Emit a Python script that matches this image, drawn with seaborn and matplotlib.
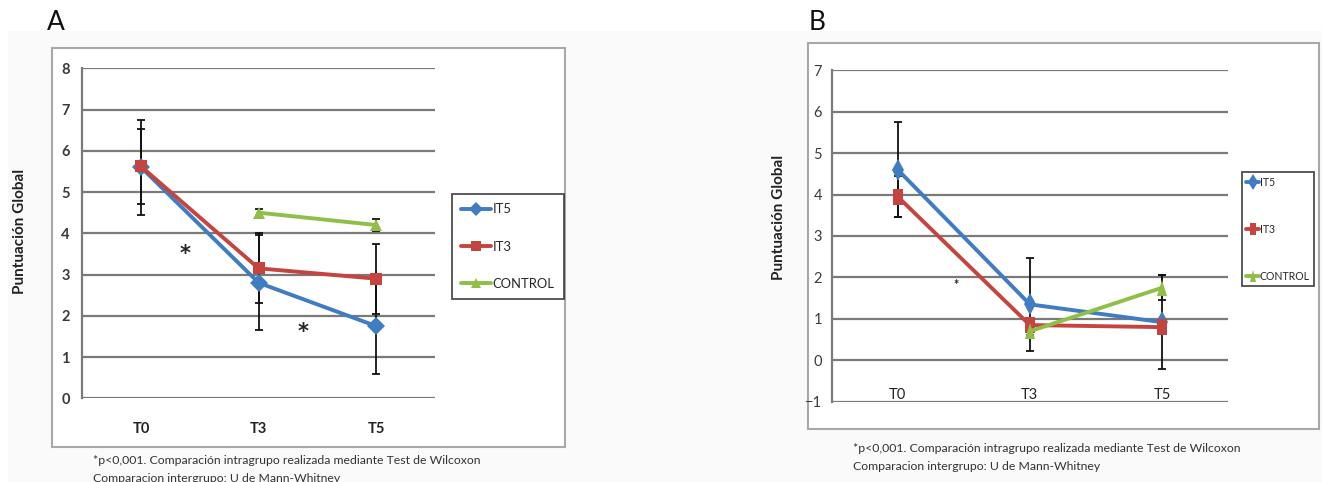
import numpy as np
import pandas as pd
import seaborn as sns
import matplotlib.pyplot as plt
from matplotlib.markers import MarkerStyle
from matplotlib.patches import Rectangle
from matplotlib.transforms import Affine2D

# %% data
tiempos = ['T0', 'T3', 'T5']
grupos = ['IT5', 'IT3', 'CONTROL']

# panel A
a_it5 = [5.60, 2.80, 1.75]
a_it3 = [5.62, 3.15, 2.90]
a_control = [4.50, 4.20]          # only T3, T5
a_it5_sd = [1.15, 1.15, 1.17]
a_it3_sd = [0.90, 0.85, 0.85]
a_control_sd = [0.10, 0.15]

# panel B
b_it5 = [4.60, 1.35, 0.92]
b_it3 = [3.95, 0.85, 0.80]
b_control = [0.70, 1.75]
b_it5_sd = [1.15, 1.12, 1.13]
b_it3_sd = [0.50, 0.10, 0.10]
b_control_sd = [0.10, 0.30]

caption1 = '*p<0,001. Comparación intragrupo realizada mediante Test de Wilcoxon'
caption2 = 'Comparacion intergrupo: U de Mann-Whitney'

colores = {'IT5': '#3f7cc2', 'IT3': '#c44440', 'CONTROL': '#8fbf46'}


def to_long(it5, it3, control, sd5, sd3, sdc):
    rows = []
    for t, v, s in zip(tiempos, it5, sd5):
        rows.append(('IT5', t, v, s))
    for t, v, s in zip(tiempos, it3, sd3):
        rows.append(('IT3', t, v, s))
    for t, v, s in zip(tiempos[1:], control, sdc):
        rows.append(('CONTROL', t, v, s))
    return pd.DataFrame(rows, columns=['grupo', 'tiempo', 'valor', 'sd'])


dfA = to_long(a_it5, a_it3, a_control, a_it5_sd, a_it3_sd, a_control_sd)
dfB = to_long(b_it5, b_it3, b_control, b_it5_sd, b_it3_sd, b_control_sd)

# %% figure
sns.set_style('white')
plt.rcParams['font.family'] = ['Lato', 'DejaVu Sans']
W, H = 1322, 482
fig = plt.figure(figsize=(W / 100, H / 100), dpi=100)
fig.patch.set_facecolor('white')
fig.patches.append(Rectangle((8 / W, 0), 1, 1 - 31 / H, transform=fig.transFigure,
                             facecolor='#fafafa', edgecolor='none', zorder=-10))


def px_axes(l, r, t, b):
    return fig.add_axes([l / W, 1 - b / H, (r - l) / W, (b - t) / H])


def chart_box(l, r, t, b):
    fig.patches.append(Rectangle((l / W, 1 - b / H), (r - l) / W, (b - t) / H,
                                 transform=fig.transFigure, facecolor='white',
                                 edgecolor='#a8a8a8', lw=1.5, zorder=-5))


def draw_panel(ax, df, markers, ms):
    pos = {t: i for i, t in enumerate(tiempos)}
    for g in grupos:
        d = df[df.grupo == g]
        ax.errorbar([pos[t] for t in d.tiempo], d.valor, yerr=d.sd, fmt='none',
                    ecolor='#111111', elinewidth=1.3, capsize=3, capthick=1.3, zorder=2)
    sns.lineplot(data=df, x='tiempo', y='valor', hue='grupo', style='grupo',
                 hue_order=grupos, style_order=grupos, palette=colores,
                 markers=markers, dashes=False, markersize=ms, lw=2.8,
                 markeredgewidth=0, sort=False, ax=ax, zorder=3)
    ax.set_xlim(-0.5, 2.5)
    ax.grid(axis='y', color='#7a7a7a', lw=1.6)
    ax.set_axisbelow(True)
    for s in ['top', 'right', 'bottom']:
        ax.spines[s].set_visible(False)
    ax.spines['left'].set_color('#7a7a7a')
    ax.spines['left'].set_linewidth(1.6)
    ax.tick_params(axis='both', length=0)
    ax.set_xlabel('')
    ax.set_facecolor('none')


# %% panel A
chart_box(51.7, 565, 48.3, 446.7)
axA = px_axes(82.3, 435, 68.3, 398.3)
draw_panel(axA, dfA, {'IT5': 'D', 'IT3': 's', 'CONTROL': '^'}, 9)
axA.set_ylim(0, 8)
axA.set_yticks(range(0, 9))
axA.tick_params(axis='y', pad=9, labelsize=10.5, labelcolor='#3a3a3a')
axA.tick_params(axis='x', pad=17, labelsize=10.5, labelcolor='#222222')
for lab in axA.get_xticklabels() + axA.get_yticklabels():
    lab.set_fontweight('bold')
axA.set_ylabel('Puntuación Global', fontsize=11, fontweight='bold', color='#222222')
axA.yaxis.set_label_coords(-0.157, 0.507)
axA.text(0.37, 3.5, '*', fontsize=15, fontweight='bold', family='DejaVu Sans',
         ha='center', va='center')
axA.text(1.375, 1.6, '*', fontsize=15, fontweight='bold', family='DejaVu Sans',
         ha='center', va='center')
legA = axA.legend(loc='upper left', bbox_to_anchor=(451.7 / W, 1 - 194 / H),
                  bbox_transform=fig.transFigure, frameon=True, fancybox=False,
                  edgecolor='#222222', fontsize=9.4, labelspacing=1.95,
                  handlelength=2.3, handletextpad=0.15, borderpad=0.7,
                  borderaxespad=0, markerscale=0.8)
legA.get_frame().set_linewidth(1.3)

fig.text(93 / W, 1 - 460 / H, caption1, fontsize=8.8, color='#333333', va='center')
fig.text(93 / W, 1 - 478 / H, caption2, fontsize=8.8, color='#333333', va='center')
fig.text(47 / W, 1 - 22 / H, 'A', fontsize=19, color='#111111', va='center')

# %% panel B  (picture is squeezed horizontally, so narrow markers)
squash = Affine2D().scale(0.6, 1.0)
mB = {'IT5': MarkerStyle('D', transform=squash),
      'IT3': MarkerStyle('s', transform=squash),
      'CONTROL': MarkerStyle('^', transform=squash)}
chart_box(808, 1319, 43.3, 429.3)
axB = px_axes(831.7, 1228, 70.3, 401.7)
draw_panel(axB, dfB, mB, 11)
axB.set_ylim(-1, 7)
axB.set_yticks(range(-1, 8))
axB.tick_params(axis='y', pad=7, labelsize=10.5, labelcolor='#3a3a3a')
axB.tick_params(axis='x', pad=-10, labelsize=10.5, labelcolor='#222222')
axB.set_ylabel('Puntuación Global', fontsize=11, fontweight='bold', color='#222222')
axB.yaxis.set_label_coords(-0.115, 0.556)
axB.text(0.44, 1.82, '*', fontsize=9, fontweight='bold', ha='center', va='center')
legB = axB.legend(loc='upper left', bbox_to_anchor=(1241.7 / W, 1 - 172 / H),
                  bbox_transform=fig.transFigure, frameon=True, fancybox=False,
                  edgecolor='#222222', fontsize=7.6, labelspacing=3.4,
                  handlelength=1.2, handletextpad=0.05, borderpad=0.45,
                  borderaxespad=0, markerscale=0.75)
legB.get_frame().set_linewidth(1.3)

fig.text(853 / W, 1 - 448 / H, caption1, fontsize=8.8, color='#333333', va='center')
fig.text(853 / W, 1 - 466 / H, caption2, fontsize=8.8, color='#333333', va='center')
fig.text(809 / W, 1 - 22 / H, 'B', fontsize=19, color='#111111', va='center')

fig.savefig('out.png', dpi=100)
